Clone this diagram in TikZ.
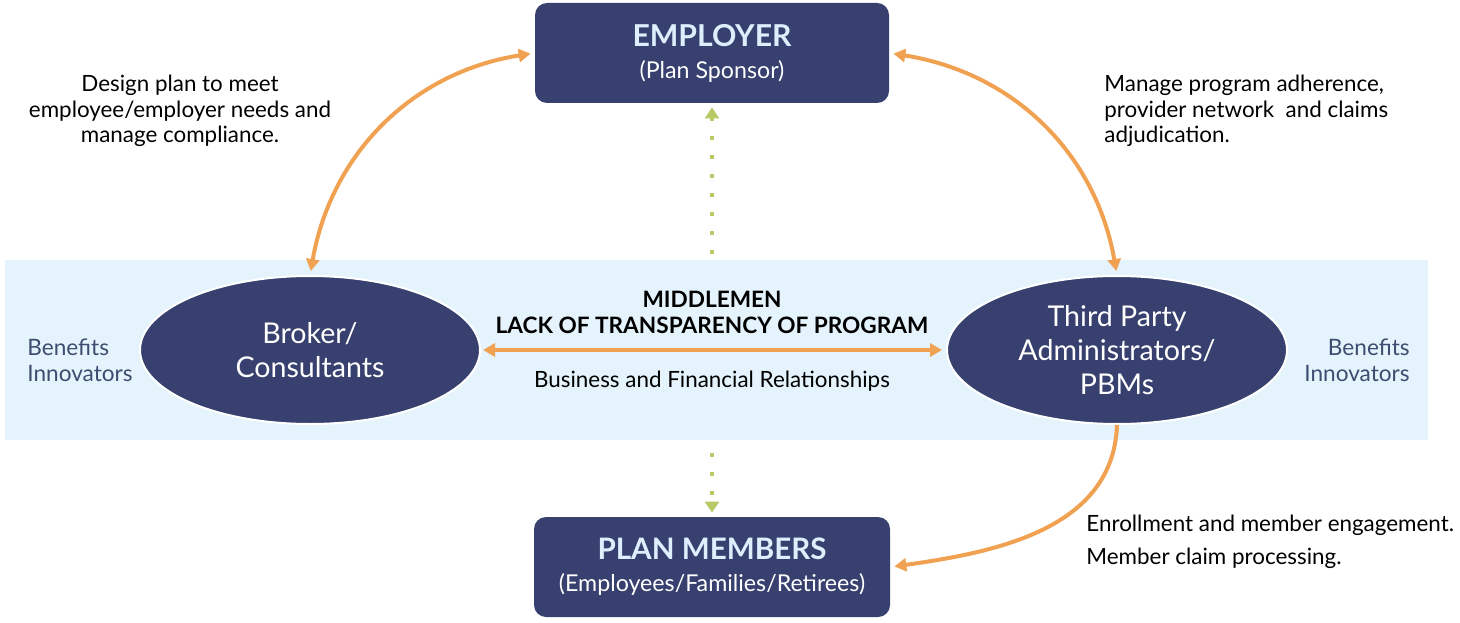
\documentclass[tikz,border=0pt]{standalone}
\usepackage{fontspec}
\setmainfont{Lato}
\usetikzlibrary{arrows.meta,calc,positioning,shapes.geometric}
\definecolor{navyblue}{RGB}{55,64,110}
\definecolor{paleblue}{RGB}{229,243,252}
\definecolor{iceblue}{RGB}{222,238,252}
\definecolor{slateblue}{RGB}{62,76,112}
\definecolor{softorange}{RGB}{240,162,82}
\definecolor{olivegreen}{RGB}{182,202,104}
\tikzset{
  caja/.style={
    rounded corners=6pt,
    fill=navyblue,
    text=white,
    align=center,
    minimum width=177pt,
    minimum height=50pt,
    inner sep=0pt,
    font=\fontsize{11.6}{16}\selectfont
  },
  ovalo/.style={
    ellipse,
    draw=white,
    line width=1pt,
    fill=navyblue,
    text=white,
    align=center,
    minimum width=170pt,
    minimum height=74pt,
    inner sep=0pt,
    font=\fontsize{14.3}{17}\selectfont
  },
  nota/.style={
    align=center,
    inner sep=0pt,
    font=\fontsize{11.2}{12.8}\selectfont
  },
  lado/.style={
    text=slateblue,
    inner sep=0pt,
    font=\fontsize{11.3}{13}\selectfont
  },
  arrow/.style={
    >={Triangle[length=6pt,width=6.5pt]},
    ->,
    line width=2pt,
    softorange
  },
  puntos/.style={
    -{Triangle[length=5.5pt,width=7pt]},
    line width=2pt,
    olivegreen,
    dash pattern=on 2pt off 7.5pt
  }
}

\begin{document}
\begin{tikzpicture}[x=0.5pt,y=0.5pt]
\useasboundingbox (0,0) rectangle (1460,622);
% franja de intermediarios
\fill[paleblue] (5,182) rectangle (1428,362);
\node[caja] (emp) at (712,569) {{\fontsize{15.1}{15}\selectfont\bfseries\color{iceblue}EMPLOYER}\\(Plan Sponsor)};
\node[caja, minimum width=178pt] (plan) at (712,55) {{\fontsize{14.8}{14}\selectfont\bfseries\color{iceblue}PLAN MEMBERS}\\(Employees/Families/Retirees)};
\node[ovalo] (bro) at (310,272) {Broker/\\Consultants};
\node[ovalo] (tpa) at (1117,272) {Third Party\\Administrators/\\PBMs};
\node[lado, anchor=west, align=left] (izq) at (27,262) {Benefits\\Innovators};
\node[lado, anchor=east, align=right] (der) at (1410,262) {Benefits\\Innovators};
\node[nota, font=\fontsize{11.3}{13}\selectfont\bfseries] (mid) at (712,310) {MIDDLEMEN\\LACK OF TRANSPARENCY OF PROGRAM};
\node[nota] (neg) at (712,241) {Business and Financial Relationships};
% notas
\node[nota] (n1) at (180,511) {Design plan to meet\\employee/employer needs and\\manage compliance.};
\node[nota, align=left, anchor=west] (n2) at (1104,511) {Manage program adherence,\\provider network \ and claims\\adjudication.};
\node[nota, align=left, anchor=west, font=\fontsize{11.2}{16.5}\selectfont] (n3) at (1086,80) {Enrollment and member engagement.\\Member claim processing.};
% flechas
\draw[arrow, <->, shorten <=2pt, shorten >=2pt] (bro.north) to[out=80, in=189] (emp.west);
\draw[arrow, <->, shorten <=2pt, shorten >=2pt] (emp.east) to[out=-9, in=100] (tpa.north);
\draw[arrow, <->, shorten <=1pt, shorten >=2pt] (bro.east) -- (tpa.west);
\draw[arrow, shorten >=2pt] (tpa.south) to[out=-92, in=8] (plan.east);
\coordinate (c1) at (712,368);
\coordinate (c2) at (712,169);
\draw[puntos, shorten >=2pt] (c1) -- (emp.south);
\draw[puntos, shorten >=2pt] (c2) -- (plan.north);
\end{tikzpicture}
\end{document}
